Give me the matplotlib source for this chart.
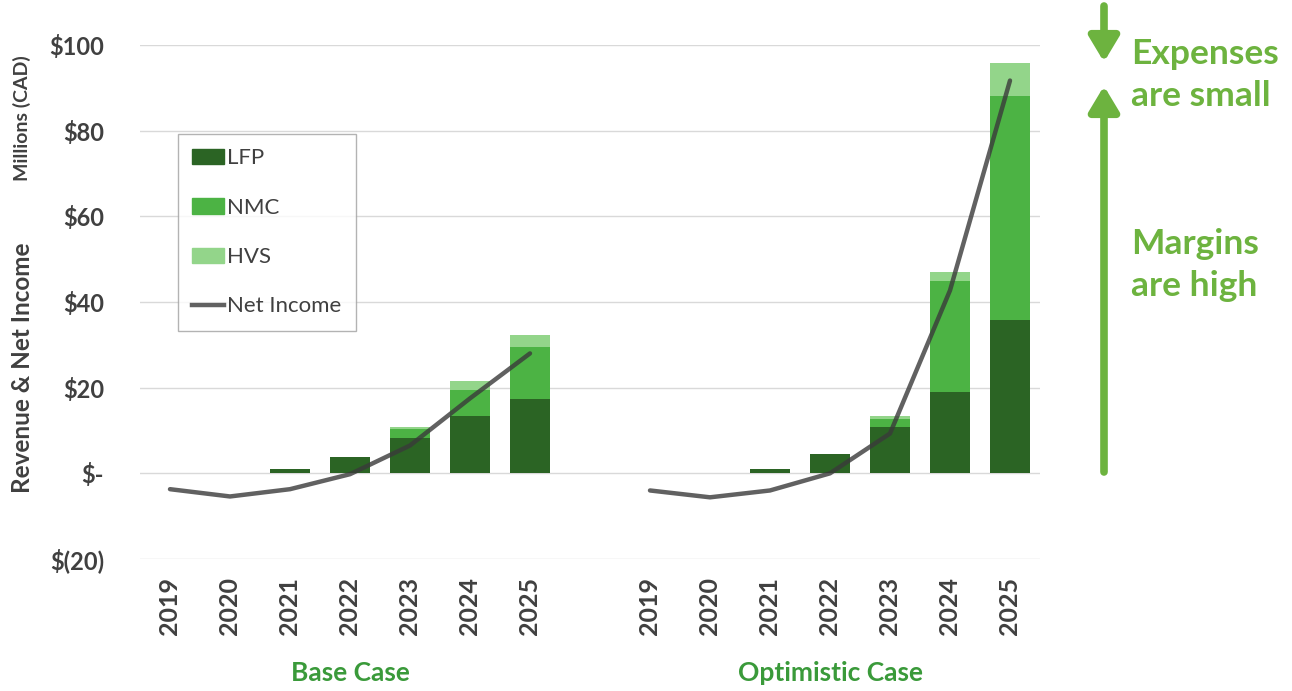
import matplotlib
matplotlib.use("Agg")
import matplotlib.pyplot as plt
import numpy as np
from matplotlib.patches import Patch
from matplotlib.lines import Line2D

plt.rcParams['font.family'] = ['Lato', 'DejaVu Sans']

years = ['2019', '2020', '2021', '2022', '2023', '2024', '2025']
cases = ['Base Case', 'Optimistic Case']

# revenue by product, $M CAD
base_lfp = [0, 0, 1.0, 3.7, 8.2, 13.3, 17.3]
base_nmc = [0, 0, 0, 0, 2.2, 6.1, 12.1]
base_hvs = [0, 0, 0, 0, 0.4, 2.1, 2.8]
base_net = [-3.7, -5.4, -3.7, -0.2, 6.5, 17.5, 28.0]

opt_lfp = [0, 0, 1.0, 4.6, 10.8, 18.9, 35.7]
opt_nmc = [0, 0, 0, 0, 2.0, 26.1, 52.3]
opt_hvs = [0, 0, 0, 0, 0.7, 1.9, 7.9]
opt_net = [-4.0, -5.6, -4.0, 0.0, 9.3, 42.7, 91.7]

c_lfp = '#2b6424'
c_nmc = '#4cb344'
c_hvs = '#93d58a'
c_line = '#3a3a3a'
c_green = '#6db33f'
c_case = '#3a9a3a'
c_text = '#404040'

fig = plt.figure(figsize=(12.92, 6.91), dpi=100)
ax = fig.add_axes([140/1292, 1-559/691, 900/1292, 514/691])

n = len(years)
xb = np.arange(n)
xo = np.arange(n) + n + 1
w = 0.67

for xs, lfp, nmc, hvs, net in [(xb, base_lfp, base_nmc, base_hvs, base_net),
                                (xo, opt_lfp, opt_nmc, opt_hvs, opt_net)]:
    lfp = np.array(lfp); nmc = np.array(nmc); hvs = np.array(hvs)
    ax.bar(xs, lfp, w, color=c_lfp, zorder=2)
    ax.bar(xs, nmc, w, bottom=lfp, color=c_nmc, zorder=2)
    ax.bar(xs, hvs, w, bottom=lfp+nmc, color=c_hvs, zorder=2)
    ax.plot(xs, net, color=c_line, lw=3.2, alpha=0.8, zorder=3,
            solid_capstyle='round', solid_joinstyle='round')

ax.set_xlim(-0.5, 2*n + 0.5)
ax.set_ylim(-20, 100)
ax.set_yticks([-20, 0, 20, 40, 60, 80, 100])
ax.set_yticklabels(['$(20)', '$-', '$20', '$40', '$60', '$80', '$100'])
ax.set_xticks(np.concatenate([xb, xo]))
ax.set_xticklabels(years + years, rotation=90)
ax.grid(axis='y', color='#d9d9d9', lw=1, zorder=0)
ax.set_axisbelow(True)
for s in ax.spines.values():
    s.set_visible(False)
ax.tick_params(length=0)
ax.tick_params(axis='y', pad=26, labelsize=17, labelcolor=c_text)
ax.tick_params(axis='x', pad=13, labelsize=18, labelcolor=c_text)
for t in ax.get_xticklabels() + ax.get_yticklabels():
    t.set_fontweight('bold')

# case labels
fig.text(350/1292, 1-673/691, cases[0], ha='center', va='center',
         color=c_case, fontsize=19, fontweight='bold')
fig.text(831/1292, 1-673/691, cases[1], ha='center', va='center',
         color=c_case, fontsize=19, fontweight='bold')

# axis titles
fig.text(22/1292, 1-118/691, 'Millions (CAD)', rotation=90, ha='center', va='center',
         color=c_text, fontsize=14, fontweight='bold')
fig.text(23/1292, 1-368/691, 'Revenue & Net Income', rotation=90, ha='center', va='center',
         color=c_text, fontsize=17.5, fontweight='bold')

# legend
handles = [Patch(color=c_lfp), Patch(color=c_nmc), Patch(color=c_hvs),
           Line2D([], [], color=c_line, lw=3.2, alpha=0.8)]
leg = ax.legend(handles, ['LFP', 'NMC', 'HVS', 'Net Income'],
                loc='upper left', bbox_to_anchor=(178/1292, 1-134/691),
                bbox_transform=fig.transFigure, borderaxespad=0,
                fontsize=16, labelspacing=1.32,
                handlelength=1.4, handleheight=0.7, handletextpad=0.15,
                borderpad=0.65, fancybox=False, frameon=True)
leg.get_frame().set_edgecolor('#a0a0a0')
leg.get_frame().set_linewidth(1.0)
for t in leg.get_texts():
    t.set_color(c_text)

# right-hand annotation
arrow = dict(arrowstyle='-|>,head_width=0.45,head_length=0.75', lw=5.5,
             color=c_green, mutation_scale=20, shrinkA=0, shrinkB=0)
ax.annotate('', xy=(1104, 691-62), xytext=(1104, 691-6),
            xycoords='figure pixels', textcoords='figure pixels', arrowprops=arrow)
ax.annotate('', xy=(1104, 691-86), xytext=(1104, 691-472),
            xycoords='figure pixels', textcoords='figure pixels', arrowprops=arrow)
fig.text(1131/1292, 1-75/691, 'Expenses\nare small', ha='left', va='center',
         color=c_green, fontsize=25.5, fontweight='bold', linespacing=1.42)
fig.text(1131/1292, 1-265/691, 'Margins\nare high', ha='left', va='center',
         color=c_green, fontsize=25.5, fontweight='bold', linespacing=1.42)

fig.savefig('out.png', dpi=100)
